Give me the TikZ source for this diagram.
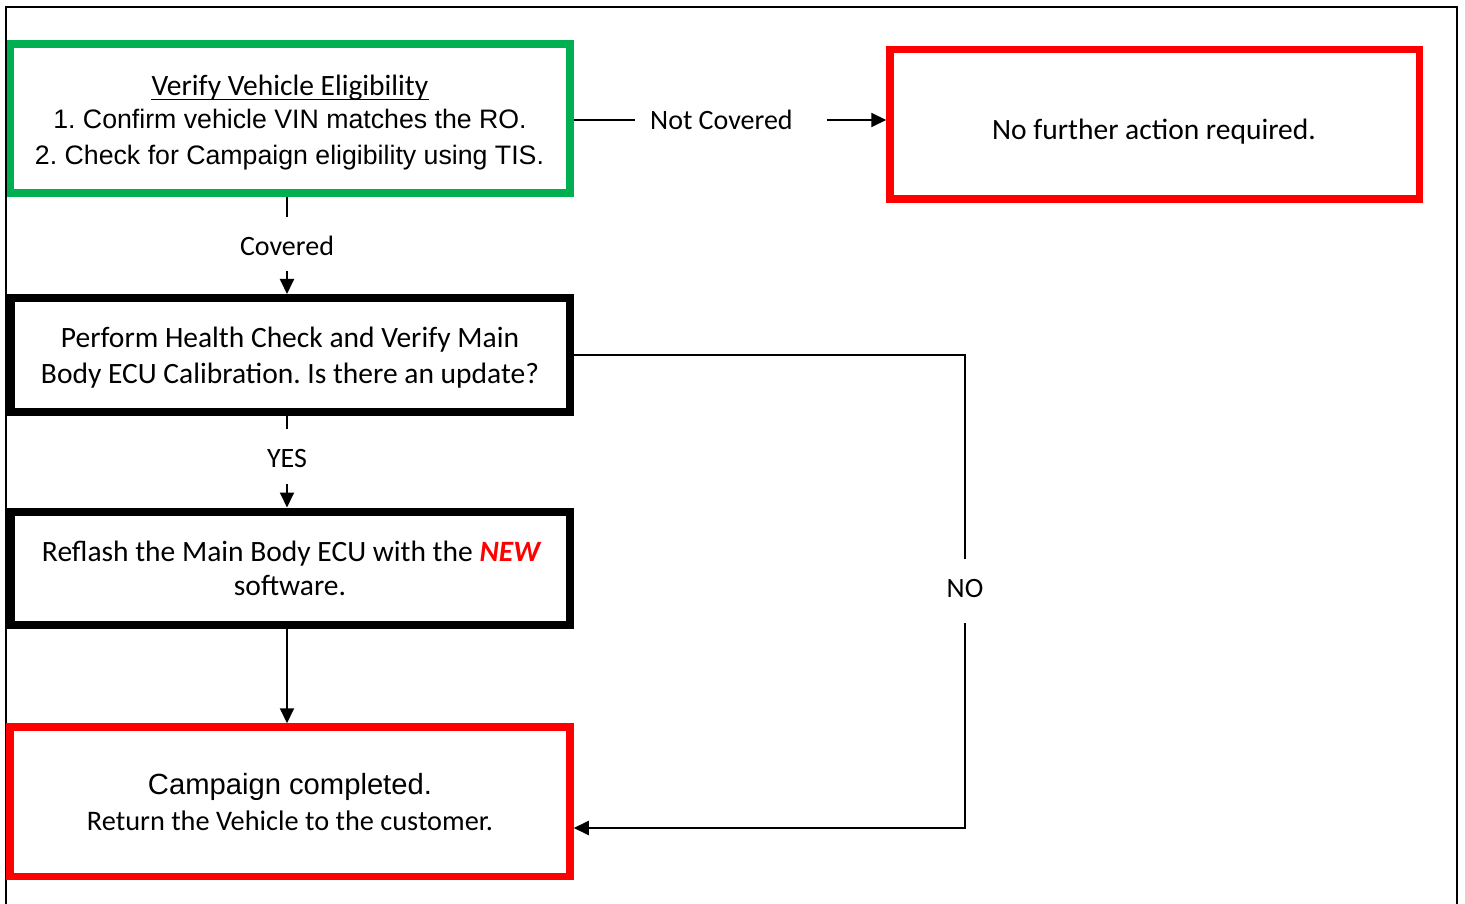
\documentclass[tikz,border=0pt]{standalone}
\usepackage{fontspec}
\setmainfont{Carlito}
\newfontfamily\arialf{Liberation Sans}
\usetikzlibrary{arrows.meta,calc}
\definecolor{boxgreen}{RGB}{0,176,80}
\definecolor{boxred}{RGB}{255,0,0}
\frenchspacing
\begin{document}
\frenchspacing
\begin{tikzpicture}[x=1pt,y=-1pt,
  fbox/.style={draw, rectangle, inner sep=0pt, outer sep=auto},
  cal/.style={font=\fontsize{28}{34}\selectfont, inner sep=0pt, anchor=base},
  calb/.style={font=\fontsize{29.5}{35}\selectfont, inner sep=0pt, anchor=base},
  ari/.style={font=\arialf\fontsize{26.7}{32}\selectfont, inner sep=0pt, anchor=base},
  gaplbl/.style={font=\fontsize{28}{34}\selectfont, inner sep=0pt, text height=22pt, text depth=0pt},
  conn/.style={line width=2pt, draw=black},
  arr/.style={conn, -{Triangle[length=15pt,width=14pt]}},
]
\useasboundingbox (0,0) rectangle (1465,904);
% outer frame
\draw[line width=2pt] (6,904) -- (6,7) -- (1457,7) -- (1457,904);

% boxes
\node[fbox, draw=boxgreen, line width=7.5pt, minimum width=559.5, minimum height=149] (elig) at (290.25,118.75) {};
\node[fbox, draw=boxred, line width=7.5pt, minimum width=529.5, minimum height=149.5] (nofur) at (1154.75,124.25) {};
\node[fbox, line width=8pt, minimum width=559, minimum height=114] (health) at (290.5,355) {};
\node[fbox, line width=8pt, minimum width=559, minimum height=113.5] (reflash) at (290.5,568.25) {};
\node[fbox, draw=boxred, line width=7.5pt, minimum width=560, minimum height=149.5] (done) at (290,801.75) {};

% texts
\node[calb] (t1) at (290,95.5) {Verify Vehicle Eligibility};
\draw[line width=1.8pt] ($(t1.base west)+(0,4)$) -- ($(t1.base east)+(0,4)$);
\node[ari] (t2) at (290,129) {1. Confirm vehicle VIN matches the RO.};
\node[ari] (t3) at (289.5,164.5) {2. Check for Campaign eligibility using TIS.};
\node[calb] (t4) at (1154,139.3) {No further action required.};
\node[calb] (t5) at (290,347) {Perform Health Check and Verify Main};
\node[calb] (t6) at (290,383) {Body ECU Calibration. Is there an update?};
\node[calb] (t7) at (291,561) {Reflash the Main Body ECU with the {\color{boxred}\bfseries\itshape NEW}};
\node[calb] (t8) at (290,595.5) {software.};
\node[font=\arialf\fontsize{29.2}{35}\selectfont, inner sep=0pt, anchor=base] (t9) at (290,794.5) {Campaign completed.};
\node[cal, font=\fontsize{28.3}{34}\selectfont] (t10) at (290,830) {Return the Vehicle to the customer.};

% labels
\node[gaplbl, minimum height=54] (lcov) at (287,244) {Covered};
\node[gaplbl, minimum height=55] (lyes) at (287,456.5) {YES};
\node[cal] (lnc) at (721.4,130) {Not Covered};
\node[cal] (lno) at (965,597) {NO};
\coordinate (nc1) at (635,120);
\coordinate (nc2) at (826.7,120);
\coordinate (no1) at (965,559);
\coordinate (no2) at (965,623);
\coordinate (no3) at (965,828);

% connectors
\draw[conn] (lcov.north |- elig.south) -- (lcov.north);
\draw[arr] (lcov.south) -- (lcov.south |- health.north);
\draw[conn] (lyes.north |- health.south) -- (lyes.north);
\draw[arr] (lyes.south) -- (lyes.south |- reflash.north);
\draw[arr] (lyes |- reflash.south) -- (lyes |- done.north);
\draw[conn] (elig.east |- nc1) -- (nc1);
\draw[arr] (nc2) -- (nofur.west |- nc2);
\draw[conn] (health.east) -- (health.east -| no1) -- (no1);
\draw[arr] (no2) -- (no3) -- (no3 -| done.east);
\end{tikzpicture}
\end{document}
